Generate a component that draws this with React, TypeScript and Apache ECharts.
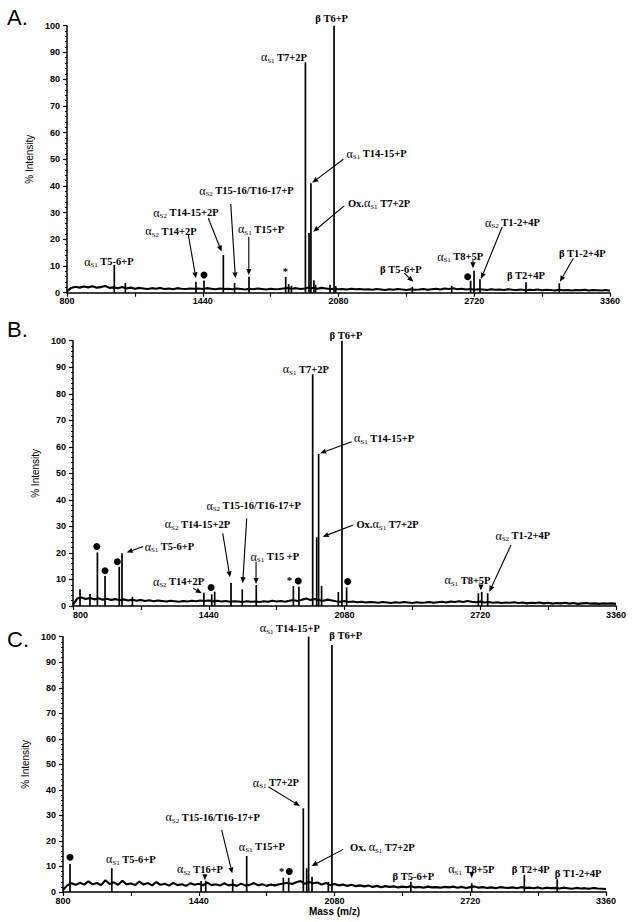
import React, { useEffect, useRef } from 'react';
import * as echarts from 'echarts';

// ---------- data ----------
const MASS_MIN = 800;
const MASS_MAX = 3360;
const NOISE_STEP = 20; // noise samples every 20 Da, from 800 to 3360
const xTickLabels = [800, 1440, 2080, 2720, 3360];

const noiseA = [
  0.5, 1.8, 2.2, 1.9, 2.3, 2.0, 2.4, 1.9, 2.1, 2.5, 1.8,
  2.0, 1.7, 2.1, 1.6, 1.9, 1.5, 1.8, 1.6, 1.4, 1.7, 1.5, 1.8, 1.4, 1.6, 1.3, 1.7, 1.5, 1.4, 1.6, 1.5,
  1.6, 1.4, 1.7, 1.5, 1.3, 1.6, 1.4, 1.5, 1.3, 1.6, 1.4, 1.2, 1.5, 1.3, 1.6, 1.4, 1.2, 1.5, 1.3, 1.4,
  1.6, 1.8, 1.5, 1.7, 1.4, 1.6, 1.9, 1.7, 1.5, 1.8, 1.6, 1.4, 1.5, 1.3, 1.4, 1.2, 1.5, 1.3, 1.4, 1.2,
  1.3, 1.1, 1.4, 1.2, 1.0, 1.3, 1.1, 1.4, 1.2, 1.0, 1.3, 1.1, 1.2, 1.4, 1.1, 1.3, 1.5, 1.2, 1.6, 1.4,
  1.7, 1.3, 1.5, 1.2, 1.4, 1.1, 1.3, 1.2, 1.0, 1.3, 1.1, 1.2, 1.0, 1.3, 1.1, 1.0, 1.2, 0.9, 1.1, 1.0,
  1.2, 0.9, 1.1, 1.0, 0.8, 1.1, 0.9, 1.0, 0.8, 1.0, 0.9, 1.1, 0.8, 1.0, 0.9, 0.8, 1.0, 0.7,
];
const noiseB = [
  0.5, 2.8, 3.2, 2.6, 3.0, 2.5, 2.9, 2.4, 2.7, 2.3, 2.6,
  2.2, 2.5, 2.1, 2.4, 2.0, 2.3, 1.9, 2.2, 1.8, 2.1, 1.9, 1.7, 2.0, 1.8, 1.6, 1.9, 1.7, 2.0, 1.8, 2.1,
  1.9, 2.1, 1.8, 2.0, 1.7, 1.9, 1.6, 1.8, 1.7, 1.5, 1.8, 1.6, 1.7, 1.5, 1.8, 1.6, 2.0, 1.7, 1.9, 1.6,
  2.0, 2.2, 1.9, 2.4, 2.8, 2.3, 2.6, 2.2, 2.0, 2.4, 2.1, 1.8, 1.6, 1.9, 1.5, 1.7, 1.4, 1.6, 1.3, 1.5,
  1.4, 1.2, 1.5, 1.3, 1.1, 1.4, 1.2, 1.5, 1.3, 1.1, 1.4, 1.2, 1.3, 1.5, 1.2, 1.4, 1.6, 1.3, 1.7, 1.5,
  1.8, 1.5, 1.9, 1.6, 1.4, 1.7, 1.3, 1.5, 1.2, 1.4, 1.1, 1.3, 1.2, 1.4, 1.1, 1.3, 1.0, 1.2, 1.1, 1.3,
  1.0, 1.2, 0.9, 1.1, 1.0, 1.2, 0.9, 1.1, 0.8, 1.0, 1.1, 0.9, 1.0, 0.8, 1.0, 0.9, 1.0, 0.8,
];
const noiseC = [
  0.8, 2.6, 3.4, 2.8, 3.6, 2.9, 4.2, 3.0, 3.5, 2.7, 4.6,
  3.1, 3.8, 2.8, 4.4, 3.0, 3.3, 2.7, 4.1, 2.9, 3.5, 2.6, 3.9, 2.8, 3.2, 2.5, 3.6, 2.7, 3.0, 2.4, 3.4,
  2.8, 3.2, 2.6, 3.7, 2.7, 3.0, 2.5, 3.4, 2.6, 2.9, 2.4, 3.3, 2.5, 2.8, 3.5, 2.6, 3.0, 2.4, 2.9, 2.6,
  3.0, 3.3, 3.6, 3.1, 3.8, 4.3, 3.2, 3.9, 3.4, 3.7, 2.9, 3.5, 2.7, 3.1, 2.6, 2.9, 2.4, 2.8, 2.3, 2.6,
  2.2, 2.5, 2.0, 2.4, 1.9, 2.3, 2.0, 2.2, 1.8, 2.1, 1.9, 2.3, 1.8, 2.0, 1.7, 2.1, 1.8, 1.9, 1.7, 2.0,
  1.8, 2.1, 1.7, 2.0, 1.6, 1.9, 2.2, 1.7, 1.9, 1.6, 1.8, 1.5, 1.9, 1.7, 1.6, 1.8, 1.5, 1.9, 1.6, 1.7,
  1.5, 1.8, 1.4, 1.7, 1.5, 1.6, 1.4, 1.7, 1.5, 1.3, 1.6, 1.4, 1.5, 1.3, 1.6, 1.4, 1.3, 1.2,
];

// [mass, % intensity]
const peaksA = [
  [1023, 10.4], [1075, 3.7], [1408, 4.1], [1446, 4.6], [1537, 14.1], [1590, 3.6], [1658, 6.0],
  [1831, 5.9], [1845, 3.2], [1858, 2.6], [1924, 86.3], [1941, 22.4], [1950, 41.0], [1964, 4.7],
  [1972, 3.0], [2040, 3.0], [2059, 100], [2067, 2.5], [2428, 2.2], [2614, 2.6], [2703, 4.5],
  [2719, 8.2], [2747, 5.0], [2964, 3.9], [3121, 3.5],
];
const peaksB = [
  [833, 6.3], [880, 4.5], [915, 20.2], [951, 11.3], [1018, 14.8], [1031, 19.9], [1080, 3.5],
  [1417, 5.0], [1454, 4.4], [1468, 5.4], [1545, 8.8], [1598, 6.3], [1664, 7.9], [1839, 7.5],
  [1865, 7.3], [1930, 87.4], [1949, 25.9], [1958, 57.3], [1972, 7.5], [2051, 5.3], [2068, 100],
  [2090, 7.0], [2711, 4.8], [2727, 5.3], [2755, 4.8],
];
const peaksC = [
  [833, 11.0], [1030, 9.3], [1451, 4.3], [1473, 4.4], [1600, 5.0], [1666, 14.1], [1839, 5.6],
  [1864, 5.6], [1933, 32.8], [1949, 9.3], [1958, 100], [1974, 6.0], [2051, 4.0], [2068, 96.7],
  [2440, 4.0], [2727, 3.4], [2975, 6.7], [3130, 5.0],
];

// annotation labels: rich text + anchor [mass, intensity]
const labelsA = [
  { text: '{a|α}{s|S1}{t| T5-6+P}', at: [998, 11.6] },
  { text: '{a|α}{s|S2}{t| T14+2P}', at: [1290, 23.1] },
  { text: '{a|α}{s|S2}{t| T14-15+2P}', at: [1361, 30.0] },
  { text: '{a|α}{s|S2}{t| T15-16/T16-17+P}', at: [1646, 38.2] },
  { text: '{a|α}{s|S1}{t| T15+P}', at: [1715, 23.7] },
  { text: '{t|*}', at: [1829, 7.9] },
  { text: '{a|α}{s|S1}{t| T7+2P}', at: [1823, 88.2] },
  { text: '{b|β}{t| T6+P}', at: [2048, 102.8] },
  { text: '{a|α}{s|S1}{t| T14-15+P}', at: [2260, 52.0] },
  { text: '{t|Ox.}{a|α}{s|S1}{t| T7+2P}', at: [2271, 33.5] },
  { text: '{b|β}{t| T5-6+P}', at: [2374, 8.8] },
  { text: '{a|α}{s|S1}{t| T8+5P}', at: [2654, 13.5] },
  { text: '{a|α}{s|S2}{t| T1-2+4P}', at: [2900, 26.2] },
  { text: '{b|β}{t| T2+4P}', at: [2964, 6.3] },
  { text: '{b|β}{t| T1-2+4P}', at: [3230, 14.8] },
];
const labelsB = [
  { text: '{a|α}{s|S1}{t| T5-6+P}', at: [1255, 22.4] },
  { text: '{a|α}{s|S2}{t| T14+2P}', at: [1298, 9.2] },
  { text: '{a|α}{s|S2}{t| T14-15+2P}', at: [1387, 30.9] },
  { text: '{a|α}{s|S2}{t| T15-16/T16-17+P}', at: [1652, 37.7] },
  { text: '{a|α}{s|S1}{t| T15 +P}', at: [1752, 18.6] },
  { text: '{t|*}', at: [1820, 9.8] },
  { text: '{a|α}{s|S1}{t| T7+2P}', at: [1898, 89.2] },
  { text: '{b|β}{t| T6+P}', at: [2087, 102.1] },
  { text: '{a|α}{s|S1}{t| T14-15+P}', at: [2267, 63.2] },
  { text: '{t|Ox.}{a|α}{s|S1}{t| T7+2P}', at: [2283, 30.9] },
  { text: '{a|α}{s|S1}{t| T8+5P}', at: [2660, 9.8] },
  { text: '{a|α}{s|S2}{t| T1-2+4P}', at: [2921, 26.4] },
];
const labelsC = [
  { text: '{a|α}{s|S1}{t| T14-15+P}', at: [1870, 103.3] },
  { text: '{b|β}{t| T6+P}', at: [2133, 100.3] },
  { text: '{a|α}{s|S1}{t| T7+2P}', at: [1804, 42.8] },
  { text: '{a|α}{s|S2}{t| T15-16/T16-17+P}', at: [1506, 29.3] },
  { text: '{a|α}{s|S1}{t| T15+P}', at: [1738, 17.7] },
  { text: '{a|α}{s|S1}{t| T5-6+P}', at: [1120, 12.8] },
  { text: '{a|α}{s|S2}{t| T16+P}', at: [1446, 8.9] },
  { text: '{t|*}', at: [1831, 8.0] },
  { text: '{t|Ox. }{a|α}{s|S1}{t| T7+2P}', at: [2306, 17.5] },
  { text: '{b|β}{t| T5-6+P}', at: [2452, 6.0] },
  { text: '{a|α}{s|S1}{t| T8+5P}', at: [2725, 8.9] },
  { text: '{b|β}{t| T2+4P}', at: [3005, 8.9] },
  { text: '{b|β}{t| T1-2+4P}', at: [3229, 7.3] },
];

// arrows: [fromMass, fromInt, toMass, toInt]
const arrowsA = [
  [1372, 21.6, 1408, 5.4], [1466, 27.9, 1529, 15.4], [1572, 33.2, 1594, 5.4], [1657, 21.0, 1657, 6.6],
  [2103, 50.0, 1956, 41.2], [2107, 32.5, 1961, 22.8], [2852, 24.7, 2752, 5.2], [2714, 12.2, 2714, 9.2],
  [2390, 7.3, 2433, 4.1], [3187, 12.9, 3124, 4.1],
];
const arrowsB = [
  [1131, 22.4, 1053, 20.2], [1367, 6.7, 1407, 4.8], [1506, 27.4, 1540, 10.8], [1619, 33.1, 1600, 8.6],
  [1663, 16.7, 1663, 8.3], [2114, 61.9, 1965, 57.6], [2121, 30.5, 1977, 26.1], [2865, 23.0, 2763, 5.4],
];
const arrowsC = [
  [1548, 24.3, 1598, 7.3], [1768, 41.2, 1917, 33.7], [2121, 16.7, 1972, 10.2],
];

// filled-dot markers and downward triangles: [mass, intensity]
const dotsA = [[1446, 6.6], [2689, 6.0]];
const dotsB = [[912, 22.4], [951, 13.3], [1009, 16.7], [1451, 7.0], [1862, 9.4], [2095, 9.2]];
const dotsC = [[833, 13.6], [1867, 8.0]];
const trianglesA: number[][] = [];
const trianglesB = [[2723, 7.0]];
const trianglesC = [[1469, 5.8], [2727, 6.7]];

// ---------- styling ----------
const SANS = '"Liberation Sans", Arial, sans-serif';
const SERIF = '"Liberation Serif", "Times New Roman", serif';

const rich: any = {
  t: { fontFamily: SERIF, fontWeight: 'bold', fontSize: 10.5, fill: '#000', lineHeight: 14 },
  a: { fontFamily: SERIF, fontSize: 12, fill: '#000', lineHeight: 14 },
  b: { fontFamily: SERIF, fontWeight: 'bold', fontSize: 10.5, fill: '#000', lineHeight: 14 },
  s: { fontFamily: SERIF, fontSize: 7, fill: '#000', lineHeight: 8, verticalAlign: 'bottom' },
};

const panels = [
  {
    letter: 'A.', letterTop: 6, grid: { left: 67, right: 24, top: 25.7, bottom: 629.3 }, nameGap: 28,
    noise: noiseA, peaks: peaksA, labels: labelsA, arrows: arrowsA, dots: dotsA, tris: trianglesA, alignMin: false,
  },
  {
    letter: 'B.', letterTop: 318, grid: { left: 73, right: 18, top: 340.7, bottom: 316 }, nameGap: 23,
    noise: noiseB, peaks: peaksB, labels: labelsB, arrows: arrowsB, dots: dotsB, tris: trianglesB, alignMin: true,
  },
  {
    letter: 'C.', letterTop: 628, grid: { left: 63, right: 28, top: 636.7, bottom: 30 }, nameGap: 25,
    noise: noiseC, peaks: peaksC, labels: labelsC, arrows: arrowsC, dots: dotsC, tris: trianglesC, alignMin: false,
  },
];

function buildOption() {
  const grid = panels.map((p) => ({ ...p.grid, containLabel: false }));
  const xAxis = panels.map((p, i) => ({
    gridIndex: i,
    type: 'value',
    min: MASS_MIN,
    max: MASS_MAX,
    interval: 320,
    axisLine: { show: true, onZero: false, lineStyle: { color: '#000', width: 1.5 } },
    axisTick: { show: true, length: 4, lineStyle: { color: '#000', width: 1.2 } },
    splitLine: { show: false },
    axisLabel: {
      formatter: (v: number) => (xTickLabels.includes(v) ? String(v) : ''),
      color: '#000',
      fontFamily: SANS,
      fontWeight: 'bold',
      fontSize: 9,
      margin: 4,
      alignMinLabel: p.alignMin ? 'left' : 'center',
    },
    name: i === 2 ? 'Mass (m/z)' : '',
    nameLocation: 'middle',
    nameGap: 14,
    nameTextStyle: { color: '#000', fontFamily: SANS, fontWeight: 'bold', fontSize: 10 },
  }));
  const yAxis = panels.map((p, i) => ({
    gridIndex: i,
    type: 'value',
    min: 0,
    max: 100,
    interval: 10,
    axisLine: { show: true, lineStyle: { color: '#000', width: 1.5 } },
    axisTick: { show: true, length: 4, lineStyle: { color: '#000', width: 1.2 } },
    minorTick: { show: true, splitNumber: 5, length: 2, lineStyle: { color: '#000', width: 1 } },
    splitLine: { show: false },
    axisLabel: { color: '#000', fontFamily: SANS, fontWeight: 'bold', fontSize: 9, margin: 7 },
    name: '% Intensity',
    nameLocation: 'middle',
    nameGap: p.nameGap,
    nameTextStyle: { color: '#000', fontFamily: SANS, fontSize: 10 },
  }));

  const series: any[] = [];
  panels.forEach((p, i) => {
    series.push({
      type: 'line',
      xAxisIndex: i,
      yAxisIndex: i,
      showSymbol: false,
      symbol: 'none',
      silent: true,
      lineStyle: { color: '#000', width: 2.1 },
      data: p.noise.map((v, k) => [MASS_MIN + k * NOISE_STEP, v]),
      z: 2,
    });
    series.push({
      type: 'custom',
      xAxisIndex: i,
      yAxisIndex: i,
      silent: true,
      clip: false,
      encode: { x: 0, y: 1 },
      data: p.peaks,
      renderItem: (params: any, api: any) => {
        const m = api.value(0);
        const h = api.value(1);
        const p0 = api.coord([m, 0]);
        const p1 = api.coord([m, h]);
        return {
          type: 'line',
          shape: { x1: p0[0], y1: p0[1], x2: p1[0], y2: p1[1] },
          style: { stroke: '#000', lineWidth: 1.7 },
        };
      },
      z: 3,
    });
    series.push({
      type: 'custom',
      xAxisIndex: i,
      yAxisIndex: i,
      silent: true,
      clip: false,
      encode: { x: [0, 2], y: [1, 3] },
      data: p.arrows,
      renderItem: (params: any, api: any) => {
        const a = api.coord([api.value(0), api.value(1)]);
        const b = api.coord([api.value(2), api.value(3)]);
        const dx = b[0] - a[0];
        const dy = b[1] - a[1];
        const len = Math.hypot(dx, dy) || 1;
        const ux = dx / len;
        const uy = dy / len;
        const L = 6;
        const W = 2.6;
        const bx = b[0] - ux * L;
        const by = b[1] - uy * L;
        return {
          type: 'group',
          children: [
            { type: 'line', shape: { x1: a[0], y1: a[1], x2: bx, y2: by }, style: { stroke: '#000', lineWidth: 1.1 } },
            {
              type: 'polygon',
              shape: { points: [[b[0], b[1]], [bx - uy * W, by + ux * W], [bx + uy * W, by - ux * W]] },
              style: { fill: '#000' },
            },
          ],
        };
      },
      z: 4,
    });
    series.push({
      type: 'custom',
      xAxisIndex: i,
      yAxisIndex: i,
      silent: true,
      clip: false,
      encode: { x: 0, y: 1 },
      data: p.labels.map((l) => l.at),
      renderItem: (params: any, api: any) => {
        const pt = api.coord([api.value(0), api.value(1)]);
        return {
          type: 'text',
          x: pt[0],
          y: pt[1],
          style: {
            text: p.labels[params.dataIndex].text,
            align: 'center',
            verticalAlign: 'middle',
            rich,
            fill: '#000',
            fontFamily: SERIF,
            fontSize: 10.5,
            fontWeight: 'bold',
          },
        };
      },
      z: 5,
    });
    series.push({
      type: 'scatter',
      xAxisIndex: i,
      yAxisIndex: i,
      silent: true,
      symbol: 'circle',
      symbolSize: 7,
      itemStyle: { color: '#000', opacity: 1 },
      data: p.dots,
      z: 5,
    });
    series.push({
      type: 'scatter',
      xAxisIndex: i,
      yAxisIndex: i,
      silent: true,
      symbol: 'triangle',
      symbolRotate: 180,
      symbolSize: [5, 6],
      itemStyle: { color: '#000', opacity: 1 },
      data: p.tris,
      z: 5,
    });
  });

  const graphic = panels.map((p) => ({
    type: 'text',
    left: 7,
    top: p.letterTop,
    style: { text: p.letter, fontFamily: SANS, fontSize: 22, fill: '#000' },
  }));

  return {
    animation: false,
    backgroundColor: '#fff',
    grid,
    xAxis,
    yAxis,
    series,
    graphic,
  };
}

export default function App() {
  const ref = useRef<HTMLDivElement>(null);
  useEffect(() => {
    document.body.style.margin = '0';
    if (!ref.current) return;
    const chart = echarts.init(ref.current, undefined, { renderer: 'svg' });
    chart.setOption(buildOption() as any);
    return () => chart.dispose();
  }, []);
  return <div ref={ref} style={{ width: 634, height: 922 }} />;
}
